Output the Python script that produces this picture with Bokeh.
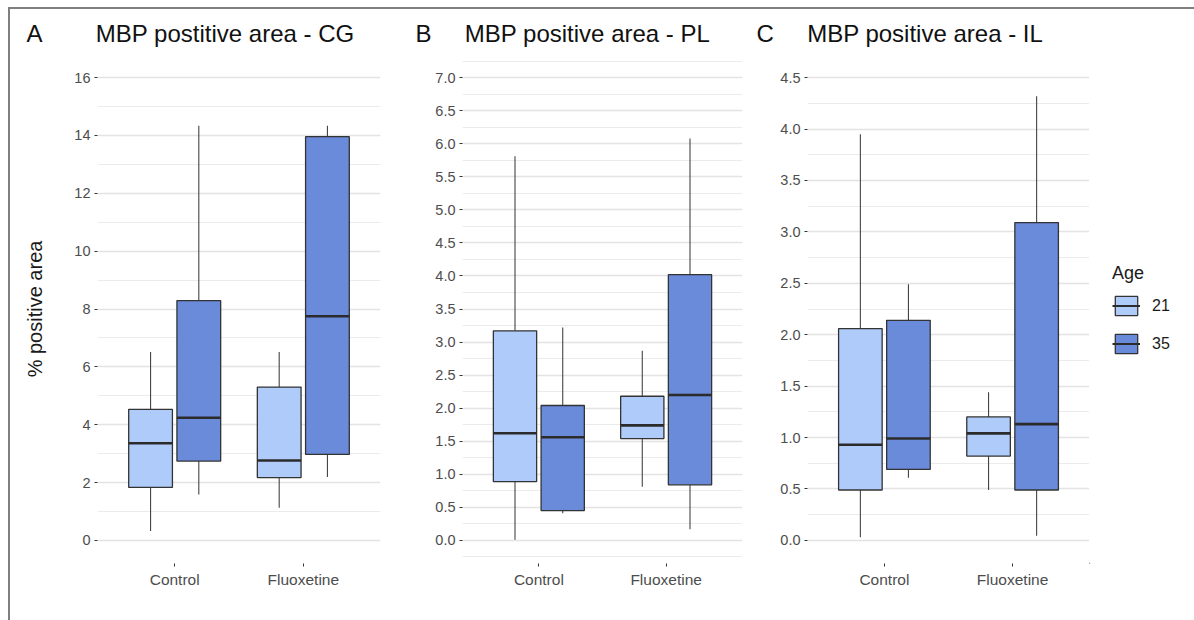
from bokeh.plotting import figure
from bokeh.models import (Range1d, FixedTicker, SingleIntervalTicker, Legend, LegendItem,
                          ColumnDataSource, PrintfTickFormatter)
from bokeh.layouts import row
from bokeh.embed import file_html
from bokeh.resources import INLINE

groups = ["Control", "Fluoxetine"]
ages = ["21", "35"]

# Panel A - CG  (lower whisker, Q1, median, Q3, upper whisker) per group
cg_21_low = [0.32, 1.13]
cg_21_q1 = [1.83, 2.17]
cg_21_med = [3.36, 2.76]
cg_21_q3 = [4.53, 5.30]
cg_21_high = [6.51, 6.51]
cg_35_low = [1.59, 2.19]
cg_35_q1 = [2.74, 2.97]
cg_35_med = [4.24, 7.75]
cg_35_q3 = [8.29, 13.96]
cg_35_high = [14.34, 14.34]

# Panel B - PL
pl_21_low = [0.01, 0.81]
pl_21_q1 = [0.89, 1.54]
pl_21_med = [1.62, 1.74]
pl_21_q3 = [3.17, 2.18]
pl_21_high = [5.81, 2.87]
pl_35_low = [0.41, 0.17]
pl_35_q1 = [0.45, 0.84]
pl_35_med = [1.56, 2.20]
pl_35_q3 = [2.04, 4.02]
pl_35_high = [3.22, 6.08]

# Panel C - IL
il_21_low = [0.03, 0.49]
il_21_q1 = [0.49, 0.82]
il_21_med = [0.93, 1.04]
il_21_q3 = [2.06, 1.20]
il_21_high = [3.95, 1.44]
il_35_low = [0.61, 0.045]
il_35_q1 = [0.69, 0.49]
il_35_med = [0.99, 1.13]
il_35_q3 = [2.14, 3.09]
il_35_high = [2.49, 4.32]

titles = ["MBP postitive area - CG", "MBP positive area - PL", "MBP positive area - IL"]
letters = ["A", "B", "C"]
y_label = "% positive area"
legend_title = "Age"

FILL = {"21": "#AFCBFA", "35": "#6A8BDA"}
OUT = "#333333"
FONT = "Liberation Sans"
H = 611
TOP = 45
FRAME_H = 509
NBSP = "\u00a0"


def panel(title, letter, stats, ymax, interval, fmt, width, left, right,
          letter_dx, gap, ylabel=False):
    p = figure(width=width, height=H, output_backend="svg", toolbar_location=None,
               min_border_left=left, min_border_right=right, min_border_top=TOP,
               min_border_bottom=H - TOP - FRAME_H,
               x_range=Range1d(0.4, 2.6), y_range=Range1d(-0.05 * ymax, 1.05 * ymax))
    p.outline_line_color = None
    p.background_fill_color = "white"
    p.border_fill_color = "white"
    # panel letter + title on one line (letter sits left of the plot frame)
    p.title.text = letter + NBSP * gap + title
    p.title.align = "left"
    p.title.offset = letter_dx
    p.title.text_font = FONT
    p.title.text_font_size = "24px"
    p.title.text_font_style = "normal"
    p.title.text_color = "#111111"
    p.title.standoff = 15

    p.xaxis.ticker = FixedTicker(ticks=[1, 2])
    p.xaxis.major_label_overrides = {1: groups[0], 2: groups[1]}
    p.yaxis.ticker = SingleIntervalTicker(interval=interval, num_minor_ticks=2)
    p.yaxis.formatter = PrintfTickFormatter(format=fmt)
    for ax in (p.xaxis, p.yaxis):
        ax.axis_line_color = None
        ax.major_tick_line_color = "#333333"
        ax.major_tick_in = 0
        ax.major_tick_out = 3
        ax.minor_tick_line_color = None
        ax.major_label_text_font = FONT
        ax.major_label_text_color = "#4d4d4d"
    p.yaxis.major_label_text_font_size = "14.5px"
    p.xaxis.major_label_text_font_size = "15.5px"
    p.yaxis.major_label_standoff = 3
    p.xaxis.major_label_standoff = 4
    if ylabel:
        p.yaxis.axis_label = y_label
        p.yaxis.axis_label_text_font = FONT
        p.yaxis.axis_label_text_font_size = "20px"
        p.yaxis.axis_label_text_font_style = "normal"
        p.yaxis.axis_label_text_color = "#1a1a1a"
        p.yaxis.axis_label_standoff = 25
    p.xgrid.grid_line_color = None
    p.ygrid.grid_line_color = "#e3e3e3"
    p.ygrid.grid_line_width = 1.3
    p.ygrid.minor_grid_line_color = "#ebebeb"
    p.ygrid.minor_grid_line_width = 1

    offsets = {"21": -0.1875, "35": 0.1875}
    bw = 0.34
    for age in ages:
        low, q1, med, q3, high = stats[age]
        xs = [i + 1 + offsets[age] for i in range(len(groups))]
        src = ColumnDataSource(dict(x=xs, x0=[x - bw / 2 for x in xs], x1=[x + bw / 2 for x in xs],
                                    low=low, q1=q1, med=med, q3=q3, high=high))
        p.segment(x0="x", x1="x", y0="low", y1="q1", source=src, line_color="#444444", line_width=1.1)
        p.segment(x0="x", x1="x", y0="q3", y1="high", source=src, line_color="#444444", line_width=1.1)
        p.vbar(x="x", width=bw, bottom="q1", top="q3", source=src,
               fill_color=FILL[age], line_color=OUT, line_width=1.3)
        p.segment(x0="x0", x1="x1", y0="med", y1="med", source=src,
                  line_color="#2b2b2b", line_width=2.6)
    return p


def legend_fig(width):
    p = figure(width=width, height=H, output_backend="svg", toolbar_location=None,
               min_border=0, x_axis_type=None, y_axis_type=None,
               x_range=Range1d(0, 1), y_range=Range1d(0, 1))
    p.outline_line_color = None
    p.xgrid.grid_line_color = None
    p.ygrid.grid_line_color = None
    p.border_fill_color = "white"
    items = []
    for age in ages:
        src = ColumnDataSource(dict(x=[-5.0], b=[-5.0], t=[-4.0], x0=[-5.2], x1=[-4.8], m=[-4.5]))
        box = p.vbar(x="x", width=0.3, bottom="b", top="t", source=src,
                     fill_color=FILL[age], line_color=OUT, line_width=1.3)
        med = p.segment(x0="x0", x1="x1", y0="m", y1="m", source=src,
                        line_color="#2b2b2b", line_width=2.2)
        items.append(LegendItem(label=age, renderers=[box, med]))
    lg = Legend(items=items, location="center_left")
    lg.title = legend_title
    lg.title_text_font = FONT
    lg.title_text_font_style = "normal"
    lg.title_text_font_size = "18px"
    lg.title_text_color = "#1a1a1a"
    lg.title_standoff = 10
    lg.label_text_font = FONT
    lg.label_text_font_size = "16px"
    lg.label_text_color = "#1a1a1a"
    lg.border_line_color = None
    lg.background_fill_alpha = 0
    lg.glyph_width = 28
    lg.glyph_height = 24
    lg.label_standoff = 12
    lg.spacing = 14
    lg.margin = 23
    lg.padding = 4
    p.add_layout(lg)
    return p


pA = panel(titles[0], letters[0],
           {"21": (cg_21_low, cg_21_q1, cg_21_med, cg_21_q3, cg_21_high),
            "35": (cg_35_low, cg_35_q1, cg_35_med, cg_35_q3, cg_35_high)},
           16, 2, "%d", 392, 87, 22, -71, 8, ylabel=True)
pB = panel(titles[1], letters[1],
           {"21": (pl_21_low, pl_21_q1, pl_21_med, pl_21_q3, pl_21_high),
            "35": (pl_35_low, pl_35_q1, pl_35_med, pl_35_q3, pl_35_high)},
           7, 0.5, "%.1f", 351, 60, 11, -47, 5)
pC = panel(titles[2], letters[2],
           {"21": (il_21_low, il_21_q1, il_21_med, il_21_q3, il_21_high),
            "35": (il_35_low, il_35_q1, il_35_med, il_35_q3, il_35_high)},
           4.5, 0.5, "%.1f", 336, 54, 0, -51, 5)
pL = legend_fig(105)

layout = row(pA, pB, pC, pL, margin=(7, 0, 0, 8), spacing=0,
             styles={"border-top": "2px solid #7f7f7f", "border-left": "2px solid #7f7f7f"})

open("out.html", "w").write(file_html(layout, INLINE))
